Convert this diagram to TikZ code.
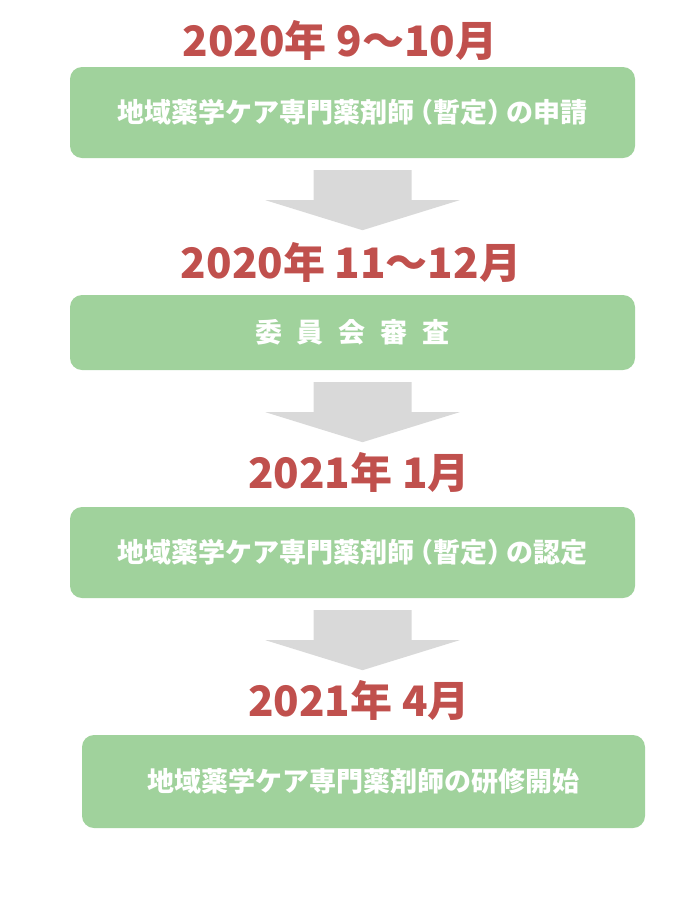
\documentclass[tikz,border=0pt]{standalone}
\usepackage{fontspec}
\newfontfamily\jpfont{Noto Sans CJK JP}
\definecolor{boxgreen}{HTML}{A0D29C}
\definecolor{datered}{HTML}{C0504D}
\definecolor{arrowgray}{HTML}{D9D9D9}
\tikzset{
  stepbox/.style={fill=boxgreen, rounded corners=12pt, text=white,
    font=\jpfont\bfseries\fontsize{27}{32}\selectfont,
    minimum width=565pt, minimum height=91pt, inner sep=0pt},
  datelabel/.style={text=datered, font=\jpfont\bfseries\fontsize{42}{48}\selectfont,
    inner sep=0pt}
}

\begin{document}
\begin{tikzpicture}[x=1pt,y=-1pt]
\useasboundingbox (0,0) rectangle (696,906);
% dates
\node[datelabel] (d1) at (340,40) {2020年 9〜10月};
\node[datelabel] (d2) at (351,262) {2020年 11〜12月};
\node[datelabel] (d3) at (359,472) {2021年 1月};
\node[datelabel] (d4) at (359,700) {2021年 4月};
% boxes
\node[stepbox] (b1) at (352.5,112.5) {地域薬学ケア専門薬剤師\kern-.3em（暫定）\kern-.3em の申請};
\node[stepbox, minimum height=75pt] (b2) at (352.5,332.5)
  {委\hspace{15pt}員\hspace{15pt}会\hspace{15pt}審\hspace{15pt}査};
\node[stepbox] (b3) at (352.5,552.5) {地域薬学ケア専門薬剤師\kern-.3em（暫定）\kern-.3em の認定};
\node[stepbox, minimum width=563pt, minimum height=93pt] (b4) at (363.5,781.5) {地域薬学ケア専門薬剤師の研修開始};
% arrows
\foreach \a in {b1,b2,b3}
  \fill[arrowgray] ([xshift=10pt,yshift=-12pt]\a.south) ++(-49,0) -- ++(98,0) -- ++(0,30)
    -- ++(48,0) -- ++(-97,30) -- ++(-97,-30) -- ++(48,0) -- cycle;
\end{tikzpicture}
\end{document}
